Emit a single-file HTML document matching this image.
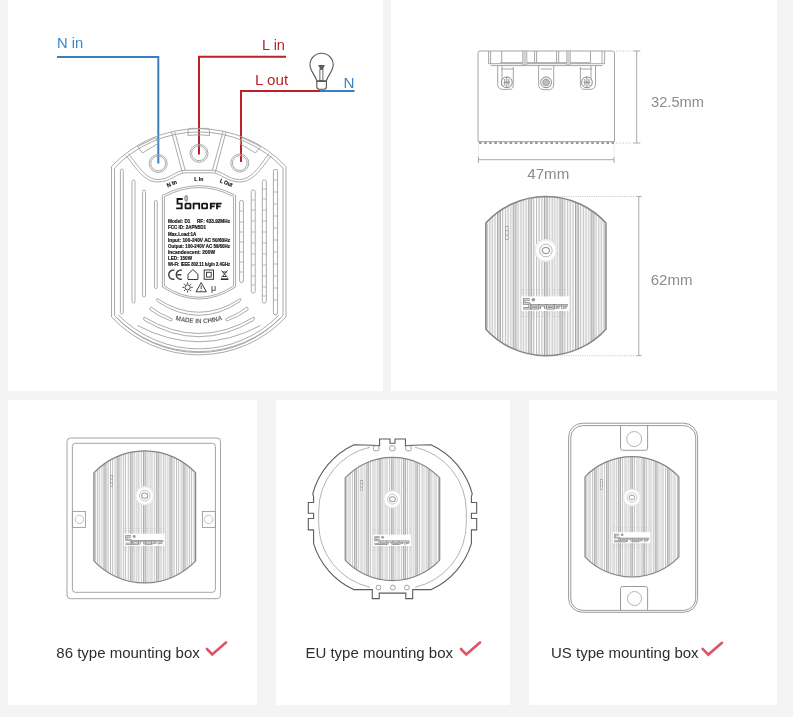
<!DOCTYPE html>
<html><head><meta charset="utf-8">
<style>
html,body{margin:0;padding:0;background:#f4f4f4;width:793px;height:722px;overflow:hidden}
svg{display:block;will-change:transform;filter:blur(0.35px)}
text{font-family:"Liberation Sans",sans-serif}
</style></head>
<body>
<svg width="793" height="722" viewBox="0 0 793 722">

<defs>
<pattern id="rib" width="15.9" height="10" patternUnits="userSpaceOnUse" x="-2.1" y="0">
<rect x="0" y="0" width="15.9" height="10" fill="#ffffff"/>
<rect x="0" y="0" width="3.6" height="10" fill="#d8d8d8"/>
<rect x="0" y="0" width="0.85" height="10" fill="#9c9c9c"/>
<rect x="2.85" y="0" width="0.85" height="10" fill="#9c9c9c"/>
<rect x="5.3" y="0" width="0.85" height="10" fill="#a4a4a4"/>
<rect x="8.15" y="0" width="0.85" height="10" fill="#aaaaaa"/>
<rect x="10.6" y="0" width="0.85" height="10" fill="#a4a4a4"/>
<rect x="13.45" y="0" width="0.85" height="10" fill="#aaaaaa"/>
</pattern>
<clipPath id="tvclip"><path d="M-61.3 -53.3 A83.7 83.7 0 0 1 61.3 -53.3 V53.3 A83.7 83.7 0 0 1 -61.3 53.3 Z"/></clipPath>
<g id="topview">
<g clip-path="url(#tvclip)">
<rect x="-62" y="-81" width="124" height="162" fill="url(#rib)"/>
<!-- button -->
<circle cx="0" cy="-25.7" r="11.6" fill="#ffffff" stroke="#d0d0d0" stroke-width="0.6"/>
<circle cx="0" cy="-25.7" r="10.4" fill="none" stroke="#d8d8d8" stroke-width="0.5"/>
<circle cx="0" cy="-25.7" r="6.4" fill="#fff" stroke="#b0b0b0" stroke-width="0.9"/>
<ellipse cx="0" cy="-25.7" rx="3.7" ry="3.2" fill="#fff" stroke="#a0a0a0" stroke-width="1.3"/>
<!-- logo band -->
<rect x="-25" y="20.4" width="49" height="14.6" fill="#ffffff"/>
<path d="M-25 13.9 H24 M-25 17.1 H24 M-25 37.2 H24 M-25 40.4 H24" stroke="#c2c2c2" stroke-width="0.6" stroke-dasharray="3 2.3"/>
<g fill="none" stroke="#808080" stroke-width="2.5" stroke-linejoin="miter">
<path d="M-16.5 23.6 H-22.2 V27.6 H-17.6 Q-16.6 27.6 -16.6 28.6 V32.4 H-23.2"/>
<path d="M-14.2 29.2 H-8.4 V32.4 H-14.2 Z"/>
<path d="M-6.3 33 V29.2 H-0.5 V33"/>
<path d="M1.6 29.2 H7.4 V32.4 H1.6 Z"/>
<path d="M9.5 33 V29.2 H15.2 M9.5 31.2 H14"/>
<path d="M16.8 33 V29.2 H22.4 M16.8 31.2 H21.2"/>
</g>
<g fill="none" stroke="#f4f4f4" stroke-width="0.8">
<path d="M-16.5 23.6 H-22.2 V27.6 H-17.6 Q-16.6 27.6 -16.6 28.6 V32.4 H-23.2"/>
<path d="M-14.2 29.2 H-8.4 V32.4 H-14.2 Z"/>
<path d="M-6.3 33 V29.2 H-0.5 V33"/>
<path d="M1.6 29.2 H7.4 V32.4 H1.6 Z"/>
<path d="M9.5 33 V29.2 H15.2 M9.5 31.2 H14"/>
<path d="M16.8 33 V29.2 H22.4 M16.8 31.2 H21.2"/>
</g>
<circle cx="-12.8" cy="23.8" r="1.8" fill="#9a9a9a"/>
<!-- small mark -->
<rect x="-41" y="-50" width="2.4" height="13.3" fill="#fff" stroke="#888" stroke-width="0.7"/>
<path d="M-41 -45.6 H-38.6 M-41 -41.2 H-38.6" stroke="#888" stroke-width="0.7"/>
</g>
<path d="M-61.3 -53.3 A83.7 83.7 0 0 1 61.3 -53.3 V53.3 A83.7 83.7 0 0 1 -61.3 53.3 Z" fill="none" stroke="#858585" stroke-width="1.5"/>
<path d="M-59.5 -52.5 V52.5 M59.5 -52.5 V52.5" stroke="#bbbbbb" stroke-width="0.7"/>
</g>
</defs>
<rect x="0" y="0" width="793" height="722" fill="#f4f4f4"/>
<rect x="0" y="717" width="793" height="5" fill="#ffffff"/>
<rect x="8" y="0" width="375" height="391" fill="#ffffff"/>
<rect x="391" y="0" width="386" height="391" fill="#ffffff"/>
<rect x="8" y="400" width="249" height="305" fill="#ffffff"/>
<rect x="276" y="400" width="234" height="305" fill="#ffffff"/>
<rect x="529" y="400" width="248" height="305" fill="#ffffff"/>

<!-- ===== wiring diagram ===== -->
<g id="wiring">
<g fill="none" stroke-width="2" stroke-linecap="butt">
<path d="M57 57 H158.3 V163.5" stroke="#3b7fc2"/>
<path d="M286 56.8 H199 V154.5" stroke="#bb2129"/>
<path d="M320 91 H241 V162" stroke="#bb2129"/>
<path d="M320 91 H354.5" stroke="#3b7fc2"/>
</g>
<!-- bulb -->
<g fill="none" stroke="#555" stroke-width="1.1">
<path d="M316.8 81 C315.5 75 310 71.5 310 64.8 A11.6 11.6 0 0 1 333.2 64.8 C333.2 71.5 327.7 75 326.4 81 Z" fill="#fff"/>
<path d="M316.8 81 V86.5 Q316.8 89.3 319.6 89.3 H323.6 Q326.4 89.3 326.4 86.5 V81"/>
<path d="M318.2 65 H324.9 L322.9 69.3 H320.2 Z" fill="#5a5a5a" stroke="none"/>
<rect x="319.9" y="69.3" width="3" height="11.4" stroke-width="0.9"/>
<path d="M316.8 81.2 H326.4" stroke-width="1.4"/>
</g>

<text x="57" y="48" font-size="14.6" fill="#3d86c9" textLength="26.2" lengthAdjust="spacingAndGlyphs">N in</text>
<text x="262" y="50.3" font-size="14.6" fill="#b8262c" textLength="23" lengthAdjust="spacingAndGlyphs">L in</text>
<text x="255" y="85.2" font-size="14.6" fill="#b8262c" textLength="33.2" lengthAdjust="spacingAndGlyphs">L out</text>
<text x="343.6" y="88.3" font-size="14.6" fill="#3d86c9" textLength="11" lengthAdjust="spacingAndGlyphs">N</text>
</g>


<!-- ===== D1 device drawing ===== -->
<g id="dev" fill="none" stroke="#a2a2a2" stroke-width="0.9">
<!-- outer outline -->
<path d="M111.5 317 V166.5 A119.5 119.5 0 0 1 286 166.5 V317 A119.5 119.5 0 0 1 111.5 317 Z"/>
<path d="M114.5 315.6 V168 A116.5 116.5 0 0 1 283 168 V315.6 A116.5 116.5 0 0 1 114.5 315.6 Z"/>
<!-- bottom groove -->
<path d="M117 318 A114 114 0 0 0 280.5 318"/>
<path d="M118.5 315 A112 112 0 0 0 279 315"/>
<!-- left slots -->
<rect x="120.4" y="169" width="2.9" height="145" rx="1.4"/>
<rect x="132" y="180" width="3" height="123" rx="1.5"/>
<rect x="142.6" y="190" width="2.9" height="107" rx="1.4"/>
<rect x="154.5" y="200.5" width="2.7" height="88" rx="1.3"/>
<!-- right slots -->
<rect x="239.6" y="200.5" width="3.8" height="82" rx="1.6"/>
<rect x="251.3" y="190" width="3.9" height="103" rx="1.6"/>
<rect x="262.3" y="180" width="4" height="123" rx="1.6"/>
<rect x="273.4" y="169.5" width="4.2" height="145" rx="1.6"/>
<path d="M239.6 211 h3.8 M239.6 222 h3.8 M239.6 232 h3.8 M239.6 242 h3.8 M239.6 252 h3.8 M239.6 262 h3.8 M239.6 272 h3.8
M251.3 200 h3.9 M251.3 210 h3.9 M251.3 221 h3.9 M251.3 232 h3.9 M251.3 243 h3.9 M251.3 254 h3.9 M251.3 265 h3.9 M251.3 276 h3.9 M251.3 285 h3.9
M262.3 189 h4 M262.3 199 h4 M262.3 210 h4 M262.3 221 h4 M262.3 232 h4 M262.3 243 h4 M262.3 254 h4 M262.3 265 h4 M262.3 276 h4 M262.3 287 h4 M262.3 296 h4
M273.4 180 h4.2 M273.4 192 h4.2 M273.4 204 h4.2 M273.4 216 h4.2 M273.4 228 h4.2 M273.4 240 h4.2 M273.4 252 h4.2 M273.4 264 h4.2 M273.4 276 h4.2 M273.4 288 h4.2 M273.4 300 h4.2" stroke-width="0.7"/>
<!-- terminal bay -->
<path d="M126 155.5 C136 168 144 182 158 182 C171 182 176 173 186 172.8 H211.5 C221.5 173 226.5 182 239.5 182 C253.5 182 261.5 168 271.5 155.5"/>
<path d="M128.5 153.5 C138 166 146 179.5 158 179.5 C170 179.5 175 170.5 185 170.3 H212.5 C222.5 170.5 227.5 179.5 239.5 179.5 C251.5 179.5 259.5 166 269 153.5"/>
<!-- separators -->
<path d="M171.6 132 L182.4 172.8 M174.6 131.3 L185.2 170.5 M226 132 L215.2 172.8 M223 131.3 L212.4 170.5"/>
<!-- terminal holes -->
<circle cx="158.2" cy="163.5" r="9"/><circle cx="158.2" cy="163.5" r="7.4"/>
<circle cx="199" cy="153.3" r="9"/><circle cx="199" cy="153.3" r="7.4"/>
<circle cx="239.8" cy="163" r="9"/><circle cx="239.8" cy="163" r="7.4"/>
<!-- top tabs -->
<path d="M188 135.5 V130.5 Q188 128.4 190 128.4 H207.5 Q209.5 128.4 209.5 130.5 V135.5 Q199 134 188 135.5 Z"/>
<path d="M137.5 146.5 L142.5 153 L158 143.5 L156 137.5 Z"/>
<path d="M260.5 146.5 L255.5 153 L240 143.5 L242 137.5 Z"/>
<!-- arc under labels / label region -->
<!-- label outline -->
<path d="M162.4 287 V195.4 Q199 176 235.6 195.4 V287 Q199 311 162.4 287 Z"/>
<path d="M164.4 286 V196.6 Q199 178.5 233.6 196.6 V286 Q199 308.5 164.4 286 Z"/>
<!-- arc slots bottom -->
<path d="M157 298.5 Q199 326 240.5 298.5 Q241.5 300.6 240 301.6 Q199 329 157.5 301.6 Q156 300.5 157 298.5 Z"/>
<path d="M151 307 Q160 314 172 318.7 Q173 320.5 171 321 Q160 317 150 310 Q149.5 308 151 307 Z"/>
<path d="M247 307 Q238 314 226 318.7 Q225 320.5 227 321 Q238 317 248 310 Q248.5 308 247 307 Z"/>
<path d="M144 317 Q199 350 254 317 Q255 319.3 253.6 320.4 Q199 353 144.4 320.4 Q143 319.2 144 317 Z"/>
<path d="M137.5 325.5 Q199 358 260.5 325.5" />
</g>


<!-- label contents -->
<g id="labeltext" font-weight="bold" fill="#111" stroke="#111" stroke-width="0.18">
<text font-size="5.6" transform="translate(167.8 187.6) rotate(-24)" textLength="10.5" lengthAdjust="spacingAndGlyphs">N In</text>
<text x="194.3" y="180.7" font-size="5.6" textLength="9" lengthAdjust="spacingAndGlyphs">L In</text>
<text font-size="5.6" transform="translate(219.5 182.3) rotate(21)" textLength="13" lengthAdjust="spacingAndGlyphs">L Out</text>
<g font-size="5.3">
<text x="168" y="223.4" textLength="62" lengthAdjust="spacingAndGlyphs">Model: D1 &#160;&#160;&#160;&#160;RF: 433.92MHz</text>
<text x="168" y="229.45" textLength="38" lengthAdjust="spacingAndGlyphs">FCC ID: 2APN5D1</text>
<text x="168" y="235.5" textLength="28.4" lengthAdjust="spacingAndGlyphs">Max.Load:1A</text>
<text x="168" y="241.55" textLength="62" lengthAdjust="spacingAndGlyphs">Input: 100-240V AC 50/60Hz</text>
<text x="168" y="247.6" textLength="62" lengthAdjust="spacingAndGlyphs">Output: 100-240V AC 50/60Hz</text>
<text x="168" y="253.65" textLength="47.2" lengthAdjust="spacingAndGlyphs">Incandescent: 200W</text>
<text x="168" y="259.7" textLength="24" lengthAdjust="spacingAndGlyphs">LED: 150W</text>
<text x="168" y="265.75" textLength="62" lengthAdjust="spacingAndGlyphs">Wi-Fi: IEEE 802.11 b/g/n 2.4GHz</text>
</g>
</g>
<!-- sonoff logo -->
<g fill="none" stroke="#151515" stroke-width="1.8" stroke-linejoin="miter">
<path d="M182.7 199 H177.5 V203.7 H181.7 V208.3 H176.2"/>
<rect x="185.5" y="203.7" width="5" height="4.6" rx="0.6"/>
<path d="M193.6 209.2 V203.7 H199.2 V209.2"/>
<rect x="202.1" y="203.7" width="5" height="4.6" rx="0.6"/>
<path d="M210.8 209.2 V203.7 H215.6 M210.8 206.4 H214.6"/>
<path d="M217 209.2 V203.7 H221.6 M217 206.4 H220.6"/>
</g>
<g fill="none" stroke="#6a6a6a" stroke-width="0.8">
<ellipse cx="186.2" cy="198.4" rx="1.5" ry="2.9"/>
<path d="M186.2 195.8 V201"/>
</g>
<!-- icons -->
<g fill="none" stroke="#3a3a3a" stroke-width="1">
<path d="M174.3 270.2 A4.6 4.6 0 1 0 174.3 279.2" stroke-width="1.4"/>
<path d="M181.8 270.2 A4.6 4.6 0 1 0 181.8 279.2 M177.2 274.7 H181.3" stroke-width="1.4"/>
<path d="M188 279.5 V274.2 L192.9 269.6 L197.9 274.2 V279.5 Z"/>
<rect x="204.2" y="270" width="9.3" height="9.3"/>
<rect x="206.5" y="272.3" width="4.7" height="4.7"/>
<path d="M221.5 270.5 L227.5 277.5 M227.5 270.5 L221.5 277.5 M222.5 272 H226.5 M222.8 276.5 H226.2"/>
<circle cx="187.6" cy="287.4" r="2.6"/>
<path d="M187.6 282.3 V283.8 M187.6 291 V292.5 M182.5 287.4 H184 M191.2 287.4 H192.7 M184 283.8 L185 284.8 M191.2 283.8 L190.2 284.8 M184 291 L185 290 M191.2 291 L190.2 290"/>
<path d="M201.2 282.6 L206.4 291.8 H196 Z"/>
</g>
<rect x="220.8" y="278.4" width="7.6" height="1.6" fill="#2a2a2a"/>
<path d="M201.2 285.5 V289 M201.2 290 V290.8" stroke="#333" stroke-width="0.9"/>
<text x="211" y="290.8" font-size="9" fill="#333">&#956;</text>
<!-- made in china -->
<path id="micarc" d="M171 318.5 Q199 328 227 318.5" fill="none"/>
<text font-size="6.6" font-weight="bold" fill="#5e5e5e"><textPath href="#micarc" startOffset="50%" text-anchor="middle" textLength="48" lengthAdjust="spacingAndGlyphs">MADE IN CHINA</textPath></text>


<!-- ===== top-right panel: dimensions ===== -->
<g id="sideview" fill="none" stroke="#9c9c9c" stroke-width="0.9">
<path d="M478 141.6 V53 Q478 51 480 51 H612.5 Q614.5 51 614.5 53 V141.6"/>
<path d="M478 141.6 H614.5" stroke="#999" stroke-width="0.9"/>
<path d="M479 143 H614" stroke="#7a7a7a" stroke-width="1.4" stroke-dasharray="2.6 2.5"/>
<!-- terminal band -->
<path d="M488.6 51 V63.7 M490.6 51 V63.7 M501.7 51 V62.7 M534.6 51 V62.7 M536.6 51 V62.7 M556.6 51 V62.7 M558.7 51 V62.7 M590.5 51 V62.7 M602 51 V63.7 M604.6 51 V63.7"/>
<path d="M488.6 63.7 H604.6 M490.6 65.6 H602.6 M500 62.7 H590.5"/>
<rect x="522.5" y="51" width="4.5" height="14" fill="#d2d2d2" stroke="#aaa" stroke-width="0.6"/>
<rect x="566.7" y="51" width="3.6" height="14" fill="#d2d2d2" stroke="#aaa" stroke-width="0.6"/>
<!-- clamps -->
<path d="M497.7 65.6 V84 Q497.7 89.4 503 89.4 H510 Q513.3 89.4 513.3 84 V67 M502 65.6 V86 M501 69 H513.3"/>
<circle cx="506.8" cy="82.3" r="5.4" fill="#fff" stroke="#7a7a7a"/>
<path d="M506.8 77 V87.5 M504.8 79 V85.6 M508.8 79 V85.6 M503.5 82.3 H510" stroke-width="0.8" stroke="#777"/>
<path d="M538.6 65.6 V84 Q538.6 89.7 544 89.7 H548.3 Q553.7 89.7 553.7 84 V65.6 M540.5 69 H552"/>
<circle cx="546.1" cy="82.3" r="5.4" fill="#fff" stroke="#7a7a7a"/>
<circle cx="546.1" cy="82.3" r="3.4" fill="#bdbdbd" stroke="#888" stroke-width="0.7"/>
<path d="M580.4 67 V84 Q580.4 89.4 584 89.4 H590 Q595.5 89.4 595.5 84 V65.6 M591 65.6 V86 M580.4 69 H592"/>
<circle cx="586.9" cy="82.3" r="5.4" fill="#fff" stroke="#7a7a7a"/>
<path d="M586.9 77 V87.5 M584.9 79 V85.6 M588.9 79 V85.6 M583.6 82.3 H590.2" stroke-width="0.8" stroke="#777"/>
</g>
<g fill="none" stroke="#a0a0a0" stroke-width="0.9">
<path d="M636.7 51 V143 M633 51 H640.3 M633 143 H640.3"/>
<path d="M616 51 H632 M616 143 H632" stroke="#bbb" stroke-dasharray="1 1.3"/>
<path d="M478.4 159.7 H614 M478.4 156.5 V163 M614 156.5 V163"/>
<path d="M478.4 144.5 V156 M614 144.5 V156" stroke="#ccc" stroke-dasharray="1 1.3"/>
<path d="M638.8 196.5 V355.7 M636.3 196.5 H641.6 M636.3 355.7 H641.6"/>
<path d="M548 196.5 H635 M548 355.7 H635" stroke="#bbb" stroke-dasharray="1 1.3"/>
</g>
<use href="#topview" transform="translate(545.9 276.1) scale(0.980 0.995)"/>


<!-- ===== bottom panels ===== -->
<!-- 86 box -->
<g fill="none" stroke="#9a9a9a" stroke-width="0.9">
<rect x="67" y="438" width="153.5" height="160.7" rx="3.5"/>
<rect x="72.4" y="443.3" width="143" height="149" rx="3"/>
<rect x="72.4" y="511.4" width="13" height="16" />
<rect x="202.4" y="511.4" width="13" height="16" />
<circle cx="79.4" cy="519.4" r="4.2" stroke="#bbb"/>
<circle cx="208.6" cy="519.4" r="4.2" stroke="#bbb"/>
</g>
<use href="#topview" transform="translate(144.75 516.9) scale(0.8295 0.826)"/>

<!-- EU box -->
<path d="M370 447.2 A65.3 65.3 0 0 0 318.7 511 V523.4 A65.3 65.3 0 0 0 370 587.2 M415 447.2 A65.3 65.3 0 0 1 466.3 511 V523.4 A65.3 65.3 0 0 1 415 587.2" fill="none" stroke="#b4b4b4" stroke-width="1"/>
<path d="M354 444.8 L371.6 445.3 L379.6 445.6 V439 H390 V443.2 H395 V439 H405.4 V445.6 L413.4 445.3 L431 444.8 A75.2 75.2 0 0 1 472.2 493.7 L471.4 496.7 V502.5 H476.7 V513.2 H471.4 V518.5 H476.7 V529.9 H471.4 V543.6 A75.2 75.2 0 0 1 431.4 589.6 H412.7 V598.6 H405.8 V593.1 H379.2 V598.6 H372.3 V589.6 H353.6 A75.2 75.2 0 0 1 313.6 543.6 V529.9 H308.3 V518.5 H313.6 V513.2 H308.3 V502.5 H313.6 V496.7 L312.8 493.7 A75.2 75.2 0 0 1 354 444.8 Z" fill="none" stroke="#5c5c5c" stroke-width="1.1"/>
<g fill="#fff" stroke="#8a8a8a" stroke-width="0.8">
<rect x="373.4" y="445.8" width="5.6" height="5" rx="1.6"/><rect x="389.6" y="445.8" width="5.4" height="5" rx="1.6"/><rect x="405.6" y="445.8" width="5.6" height="5" rx="1.6"/>
<circle cx="378.5" cy="587.6" r="2.4"/><circle cx="392.9" cy="587.6" r="2.4"/><circle cx="406.9" cy="587.6" r="2.4"/>
</g>
<use href="#topview" transform="translate(392.45 519) scale(0.771 0.771)"/>

<!-- US box -->
<g fill="none" stroke="#8e8e8e" stroke-width="0.9">
<rect x="568.6" y="423.2" width="129" height="189.1" rx="14"/>
<rect x="570.8" y="425.6" width="124.9" height="184.8" rx="12"/>
<path d="M620.5 425.6 V448.3 Q620.5 450.3 622.5 450.3 H645.6 Q647.6 450.3 647.6 448.3 V425.6"/>
<path d="M620.5 610.4 V588.5 Q620.5 586.5 622.5 586.5 H645.6 Q647.6 586.5 647.6 588.5 V610.4"/>
<circle cx="634.2" cy="439" r="7.5" stroke="#aaa"/>
<circle cx="634.5" cy="598.5" r="7" stroke="#aaa"/>
</g>
<use href="#topview" transform="translate(631.95 516.85) scale(0.766 0.752)"/>

<!-- ===== captions ===== -->
<g font-size="15" fill="#2e2e2e">
<text x="56.3" y="657.6">86 type mounting box</text>
<text x="305.4" y="658">EU type mounting box</text>
<text x="551" y="658">US type mounting box</text>
</g>
<g fill="none" stroke="#dc5560" stroke-width="2.6" stroke-linecap="round" stroke-linejoin="miter">
<path d="M207 649 L212.2 654.5 L226 642.5"/>
<path d="M461 649 L466.2 654.5 L480 642.5"/>
<path d="M702.6 648.8 L708.3 654.6 L722 642.8"/>
</g>

<!-- dimension texts -->
<g font-size="14.6" fill="#8c8c8c">
<text x="651" y="106.5" textLength="53" lengthAdjust="spacingAndGlyphs">32.5mm</text>
<text x="527.3" y="179.2" textLength="42" lengthAdjust="spacingAndGlyphs">47mm</text>
<text x="650.7" y="284.7" textLength="41.8" lengthAdjust="spacingAndGlyphs">62mm</text>
</g>
</svg>
</body></html>
